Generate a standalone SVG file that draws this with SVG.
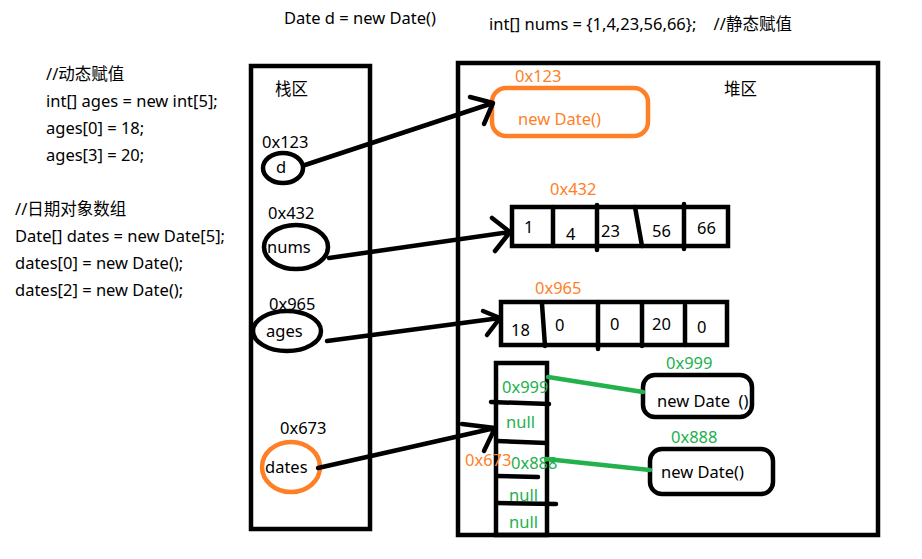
<svg xmlns="http://www.w3.org/2000/svg" width="922" height="559" viewBox="0 0 922 559">
<style>
text{font-family:"Noto Sans","Noto Sans CJK SC",sans-serif;font-size:16.5px;fill:#000}
.or{fill:#FF7F27}
.gr{fill:#22B14C}
.box{fill:none;stroke:#000;stroke-width:4.5}
.ln{fill:none;stroke:#000;stroke-width:4.5;stroke-linecap:round;stroke-linejoin:round}
.gl{fill:none;stroke:#22B14C;stroke-width:4.5;stroke-linecap:round}
</style>
<rect width="922" height="559" fill="#fff"/>
<g id="code">
<text x="284" y="24">Date d = new Date()</text>
<text x="489" y="30" xml:space="preserve">int[] nums = {1,4,23,56,66};    //静态赋值</text>
<text x="46" y="80">//动态赋值</text>
<text x="46" y="107">int[] ages = new int[5];</text>
<text x="46" y="134">ages[0] = 18;</text>
<text x="46" y="161">ages[3] = 20;</text>
<text x="15" y="215">//日期对象数组</text>
<text x="15" y="242">Date[] dates = new Date[5];</text>
<text x="15" y="269">dates[0] = new Date();</text>
<text x="15" y="296">dates[2] = new Date();</text>
</g>
<g id="stack">
<rect class="box" x="251" y="66" width="119" height="463"/>
<text x="275" y="95">栈区</text>
</g>
<g id="heap">
<rect class="box" x="458" y="63" width="420" height="472"/>
<text x="724" y="95">堆区</text>
</g>
<g id="var-d">
<text x="262" y="148">0x123</text>
<ellipse cx="283" cy="168" rx="20" ry="15" class="box"/>
<text x="276" y="173">d</text>
</g>
<g id="var-nums">
<text x="268" y="219">0x432</text>
<ellipse cx="296" cy="247" rx="32" ry="22" class="box"/>
<text x="267" y="253">nums</text>
</g>
<g id="var-ages">
<text x="269" y="310">0x965</text>
<ellipse cx="287" cy="331" rx="34" ry="20" class="box"/>
<text x="266" y="337">ages</text>
</g>
<g id="var-dates">
<text x="280" y="434">0x673</text>
<ellipse cx="291" cy="467" rx="29" ry="25" fill="none" stroke="#FF7F27" stroke-width="4.5"/>
<text x="265" y="473">dates</text>
</g>
<g id="obj-d">
<text class="or" x="515" y="82">0x123</text>
<rect x="492" y="88" width="156" height="48" rx="14" fill="none" stroke="#FF7F27" stroke-width="4.5"/>
<text class="or" x="518" y="125">new Date()</text>
</g>
<g id="arr-nums">
<text class="or" x="550" y="195">0x432</text>
<rect class="box" x="512" y="207" width="216" height="39"/>
<path class="ln" d="M553 207V246M597 205V250M635 207L642 246M684 204V249"/>
<text x="524" y="233">1</text>
<text x="566" y="240">4</text>
<text x="601" y="237">23</text>
<text x="652" y="237">56</text>
<text x="697" y="234">66</text>
</g>
<g id="arr-ages">
<text class="or" x="535" y="294">0x965</text>
<rect class="box" x="501" y="302" width="226" height="43"/>
<path class="ln" d="M542 304L545 346M598 302V349M642 304V346M685 305V345"/>
<text x="511" y="336">18</text>
<text x="555" y="331">0</text>
<text x="610" y="330">0</text>
<text x="652" y="330">20</text>
<text x="697" y="333">0</text>
</g>
<g id="arr-dates">
<rect class="box" x="496" y="363" width="51" height="172"/>
<path class="ln" d="M491 402L549 404M497 441L547 443M497 476L538 477M497 503L556 504"/>
<text class="gr" x="502" y="393">0x999</text>
<text class="gr" x="506" y="428">null</text>
<text class="gr" x="511" y="469">0x888</text>
<text class="gr" x="509" y="501">null</text>
<text class="gr" x="509" y="528">null</text>
<text class="or" x="465" y="466">0x673</text>
</g>
<g id="obj-date1">
<text class="gr" x="666" y="369">0x999</text>
<text x="657" y="407" xml:space="preserve">new Date  ()</text>
<rect x="643" y="375" width="109" height="42" rx="12" fill="none" stroke="#000" stroke-width="4.5"/>
</g>
<g id="obj-date2">
<text class="gr" x="671" y="443">0x888</text>
<rect x="650" y="449" width="123" height="45" rx="12" fill="none" stroke="#000" stroke-width="4.5"/>
<text x="661" y="478">new Date()</text>
</g>
<g id="connectors">
<path class="ln" d="M305 165L493 103M470 97L493 103L484 124"/>
<path class="ln" d="M329 258L510 232M492 218L510 232L495 251"/>
<path class="ln" d="M327 341L500 318M483 311L500 318L487 335"/>
<path class="ln" d="M318 468L495 428M462 424L495 428L484 451"/>
<path class="gl" d="M548 377L643 392M546 459L650 470"/>
</g>
</svg>
